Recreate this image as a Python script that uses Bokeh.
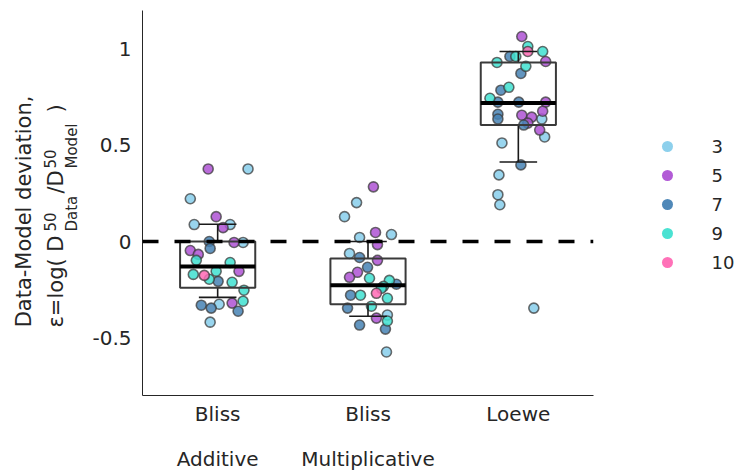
import math
from bokeh.plotting import figure
from bokeh.layouts import row
from bokeh.models import ColumnDataSource, FixedTicker, LinearAxis, Span
from bokeh.core.properties import value
from bokeh.embed import file_html
from bokeh.resources import INLINE

# ---------------- data ----------------
categories = ["Bliss Additive", "Bliss Multiplicative", "Loewe"]
tick_line1 = ["Bliss", "Bliss", "Loewe"]
tick_line2 = ["Additive", "Multiplicative", ""]
y_ticks = [-0.5, 0, 0.5, 1]
y_tick_labels = ["-0.5", "0", "0.5", "1"]

doses = ["3", "5", "7", "9", "10"]
dose_colors = ["#87CEEB", "#AE52D4", "#4682B4", "#40E0D0", "#FF69B4"]

# Bliss Additive
ba_values = [0.377, 0.377, 0.222, 0.129, 0.088, 0.088, 0.072, 0.0, -0.005, -0.005,
             -0.047, -0.067, -0.036, -0.098, -0.109, -0.155, -0.171, -0.176, -0.155, -0.196,
             -0.207, -0.212, -0.253, -0.331, -0.346, -0.326, -0.320, -0.310, -0.362, -0.419]
ba_jitter = [-0.063, 0.202, -0.182, -0.010, -0.156, 0.083, 0.036, -0.056, 0.109, 0.169,
             -0.182, -0.129, -0.050, -0.142, 0.083, 0.142, -0.162, -0.089, -0.010, -0.056,
             0.003, 0.096, 0.175, -0.109, -0.043, 0.010, 0.096, 0.169, 0.136, -0.050]
ba_dose = ["5", "3", "3", "5", "3", "3", "5", "7", "5", "3",
           "5", "5", "7", "9", "9", "5", "9", "10", "9", "9",
           "7", "9", "9", "7", "7", "3", "5", "9", "7", "3"]

# Bliss Multiplicative
bm_values = [0.284, 0.202, 0.129, 0.047, 0.021, 0.036, -0.016, -0.062, -0.083, -0.098,
             -0.134, -0.160, -0.186, -0.191, -0.202, -0.222, -0.233, -0.279, -0.279, -0.269,
             -0.295, -0.336, -0.346, -0.398, -0.382, -0.413, -0.434, -0.455, -0.574, -0.243]
bm_jitter = [0.036, -0.076, -0.156, 0.050, -0.056, 0.156, 0.063, -0.123, -0.056, 0.063,
             -0.003, -0.070, -0.123, 0.010, 0.142, 0.189, 0.103, -0.116, -0.050, 0.056,
             0.129, 0.023, -0.136, 0.056, 0.129, 0.129, -0.056, 0.116, 0.123, 0.089]
bm_dose = ["5", "3", "3", "5", "3", "3", "5", "3", "7", "5",
           "7", "5", "5", "9", "9", "7", "9", "7", "9", "10",
           "9", "9", "7", "5", "3", "9", "7", "7", "3", "9"]

# Loewe
lo_values = [1.065, 1.013, 0.987, 0.961, 0.961, 0.987, 0.930, 0.935, 0.910, 0.873,
             0.801, 0.786, 0.744, 0.724, 0.724, 0.724, 0.661, 0.636, 0.656, 0.646,
             0.677, 0.636, 0.615, 0.605, 0.579, 0.543, 0.512, 0.398, 0.346, 0.243,
             0.191, -0.346]
lo_jitter = [0.023, 0.063, 0.063, -0.056, -0.017, 0.162, -0.142, 0.182, 0.050, 0.017,
             -0.063, -0.116, -0.189, -0.136, 0.003, 0.182, -0.136, -0.136, 0.023, 0.089,
             0.162, 0.156, 0.063, 0.036, 0.142, 0.175, -0.109, 0.017, -0.129, -0.136,
             -0.123, 0.103]
lo_dose = ["5", "9", "10", "7", "9", "9", "9", "5", "9", "7",
           "9", "7", "9", "7", "7", "5", "7", "7", "5", "5",
           "5", "3", "5", "7", "5", "3", "3", "7", "3", "3",
           "3", "3"]

# box statistics per category
box_q1 = [-0.240, -0.326, 0.605]
box_median = [-0.130, -0.227, 0.720]
box_q3 = [0.000, -0.088, 0.930]
whisker_low = [-0.290, -0.388, 0.413]
whisker_high = [0.090, 0.000, 0.987]

# ---------------- styling ----------------
FONT = "DejaVu Sans"
TXT = "#262626"
positions = [1, 2, 3]
H = 474
LEFT_W, MAIN_W, RIGHT_W = 80, 540, 120
TOP, BOTTOM = 10, 79          # borders of the main plot (frames are aligned in the row)


def blank(width):
    # side panel whose frame lines up with the main frame; ranges in panel pixels
    f = figure(width=width, height=H, x_range=(0, width), y_range=(H - BOTTOM, TOP),
               output_backend="svg", toolbar_location=None,
               x_axis_location=None, y_axis_location=None,
               min_border=0, min_border_left=0, min_border_right=0,
               min_border_top=TOP, min_border_bottom=BOTTOM)
    f.grid.visible = False
    f.outline_line_color = None
    return f

# ---------------- main plot ----------------
p = figure(width=MAIN_W, height=H, x_range=(0.5, 3.5), y_range=(-0.8, 1.2),
           output_backend="svg", toolbar_location=None,
           min_border_left=62, min_border_right=27,
           min_border_top=TOP, min_border_bottom=BOTTOM)
p.grid.visible = False
p.outline_line_color = None

p.yaxis.ticker = FixedTicker(ticks=y_ticks)
p.yaxis.major_label_overrides = {t: l for t, l in zip(y_ticks, y_tick_labels)}
p.yaxis.major_tick_in = 0
p.yaxis.major_tick_out = 0
p.yaxis.minor_tick_line_color = None
p.yaxis.major_label_standoff = 11
p.yaxis.axis_line_color = TXT
p.yaxis.major_label_text_font = FONT
p.yaxis.major_label_text_font_size = "20px"
p.yaxis.major_label_text_color = TXT

xa = p.xaxis[0]
xa.ticker = FixedTicker(ticks=positions)
xa.major_label_overrides = {pos: l for pos, l in zip(positions, tick_line1)}
xa.major_tick_in = 0
xa.major_tick_out = 0
xa.minor_tick_line_color = None
xa.major_label_standoff = 6
xa.axis_line_color = TXT
xa.major_label_text_font = FONT
xa.major_label_text_font_size = "20px"
xa.major_label_text_color = TXT

xa2 = LinearAxis(ticker=FixedTicker(ticks=positions),
                 major_label_overrides={pos: l for pos, l in zip(positions, tick_line2)})
xa2.axis_line_color = None
xa2.major_tick_line_color = None
xa2.minor_tick_line_color = None
xa2.major_label_standoff = 12
xa2.major_label_text_font = FONT
xa2.major_label_text_font_size = "20px"
xa2.major_label_text_color = TXT
p.add_layout(xa2, "below")

p.add_layout(Span(location=0, dimension="width", line_color="black",
                  line_width=3.5, line_dash="16 16"))

groups = [(ba_values, ba_jitter, ba_dose), (bm_values, bm_jitter, bm_dose),
          (lo_values, lo_jitter, lo_dose)]
for d, c in zip(doses, dose_colors):
    xs, ys = [], []
    for pos, (vals, jit, dd) in zip(positions, groups):
        for v, j, k in zip(vals, jit, dd):
            if k == d:
                xs.append(pos + j)
                ys.append(v)
    p.scatter(x=xs, y=ys, size=10, fill_color=c, fill_alpha=0.85,
              line_color="#3c3c3c", line_alpha=0.75, line_width=1.6)

bw = 0.5
cw = 0.25
bsrc = ColumnDataSource(dict(
    left=[x - bw / 2 for x in positions], right=[x + bw / 2 for x in positions],
    q1=box_q1, q3=box_q3, med=box_median, lo=whisker_low, hi=whisker_high,
    x=positions,
    cl=[x - cw / 2 for x in positions], cr=[x + cw / 2 for x in positions]))
for a, b in (("q3", "hi"), ("q1", "lo")):
    p.segment(x0="x", y0=a, x1="x", y1=b, source=bsrc, line_color="#1a1a1a", line_width=1.6)
for k in ("hi", "lo"):
    p.segment(x0="cl", y0=k, x1="cr", y1=k, source=bsrc, line_color="#1a1a1a", line_width=1.6)
p.quad(left="left", right="right", bottom="q1", top="q3", source=bsrc,
       fill_color=None, line_color="#3a3a3a", line_width=2)
p.segment(x0="left", y0="med", x1="right", y1="med", source=bsrc,
          line_color="black", line_width=4)

# ---------------- y-axis title panel ----------------
yl = blank(LEFT_W)
ANG = math.pi / 2


def ytxt(text, x, y, size, align="left"):
    yl.text(x=[x], y=[y], text=[text], angle=ANG, text_align=align,
            text_baseline="middle", text_font=value(FONT),
            text_font_size=value(size), text_color=TXT)


ytxt("Data-Model deviation,", 23, 211, "21px", "center")
ytxt("ε=log( D", 55, 327, "21px")
ytxt("50", 49, 231, "15px")
ytxt("Data", 71, 231, "15px")
ytxt("/D", 55, 193, "21px")
ytxt("50", 49, 168, "15px")
ytxt("Model", 71, 168, "15px")
ytxt(")", 55, 112, "21px")

# ---------------- legend panel ----------------
lg = blank(RIGHT_W)
leg_y = [146 + 29 * i for i in range(len(doses))]
lg.scatter(x=[47] * len(doses), y=leg_y, size=11, fill_color=dose_colors,
           line_color=None, fill_alpha=0.95)
lg.text(x=[91] * len(doses), y=leg_y, text=doses, text_align="left",
        text_baseline="middle", text_font=value(FONT),
        text_font_size=value("18px"), text_color=TXT)

layout = row(yl, p, lg, spacing=0)
open("out.html", "w").write(file_html(layout, INLINE))
